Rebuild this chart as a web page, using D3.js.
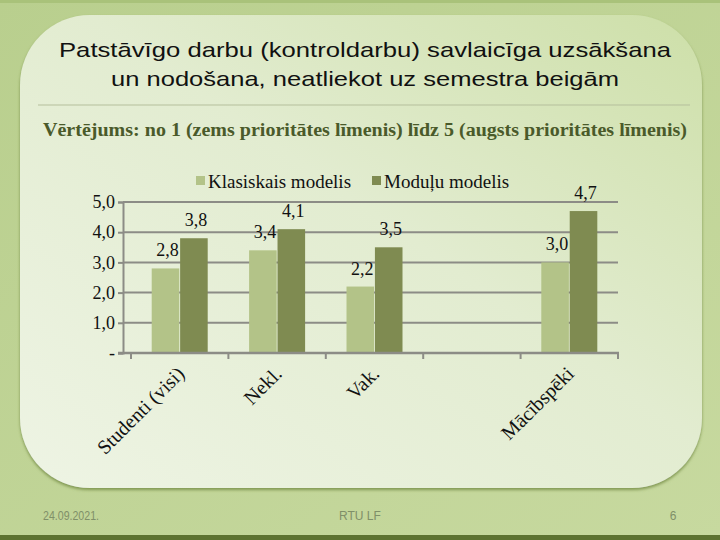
<!DOCTYPE html>
<html>
<head>
<meta charset="utf-8">
<script src="https://cdn.jsdelivr.net/npm/d3@7"></script>
<style>
  html, body { margin: 0; padding: 0; background: #c4d69b; }
  svg { display: block; }
</style>
</head>
<body>
<svg id="chart" width="720" height="540"></svg>
<script>
const categories = ["Studenti (visi)", "Nekl.", "Vak.", "", "Mācībspēki"];
const seriesNames = ["Klasiskais modelis", "Moduļu modelis"];
const klasiskais = [2.8, 3.4, 2.2, null, 3.0];
const modulu = [3.8, 4.1, 3.5, null, 4.7];
const yTicks = [0, 1, 2, 3, 4, 5];
const colors = ["#b3c388", "#7f8b51"];

const svg = d3.select("#chart");
const defs = svg.append("defs");

// slide background
const bg = defs.append("linearGradient").attr("id", "bg")
    .attr("x1", 0).attr("y1", 0).attr("x2", 1).attr("y2", 1);
bg.append("stop").attr("offset", 0).attr("stop-color", "#b9cf8e");
bg.append("stop").attr("offset", 1).attr("stop-color", "#c7d99f");

const panel = defs.append("linearGradient").attr("id", "panel")
    .attr("x1", 1).attr("y1", 0).attr("x2", 0).attr("y2", 1);
panel.append("stop").attr("offset", 0).attr("stop-color", "#cddfa8");
panel.append("stop").attr("offset", 0.45).attr("stop-color", "#e2ecd0");
panel.append("stop").attr("offset", 1).attr("stop-color", "#eef4e4");

const shadow = defs.append("filter").attr("id", "sh")
    .attr("x", -0.05).attr("y", -0.05).attr("width", 1.1).attr("height", 1.1);
shadow.append("feDropShadow").attr("dx", 0).attr("dy", 2).attr("stdDeviation", 1.5)
    .attr("flood-color", "#6f8740").attr("flood-opacity", 0.8);

svg.append("rect").attr("width", 720).attr("height", 540).attr("fill", "url(#bg)");
svg.append("rect").attr("y", 0).attr("width", 720).attr("height", 3).attr("fill", "#a9c27a");
svg.append("rect").attr("y", 535).attr("width", 720).attr("height", 5).attr("fill", "#5d7331");

svg.append("rect")
    .attr("x", 20).attr("y", 15).attr("width", 682).attr("height", 473)
    .attr("rx", 70).attr("ry", 70)
    .attr("fill", "url(#panel)")
    .attr("filter", "url(#sh)");

// title
const title = svg.append("text")
    .attr("text-anchor", "middle")
    .attr("font-family", "Liberation Sans, Arial, sans-serif")
    .attr("font-size", 21)
    .attr("fill", "#111");
title.append("tspan").attr("x", 365).attr("y", 57)
    .attr("textLength", 612).attr("lengthAdjust", "spacingAndGlyphs")
    .text("Patstāvīgo darbu (kontroldarbu) savlaicīga uzsākšana");
title.append("tspan").attr("x", 365).attr("y", 86)
    .attr("textLength", 508).attr("lengthAdjust", "spacingAndGlyphs")
    .text("un nodošana, neatliekot uz semestra beigām");

svg.append("line")
    .attr("x1", 38).attr("x2", 690).attr("y1", 105).attr("y2", 105)
    .attr("stroke", "#b5bf9c").attr("stroke-width", 1);

svg.append("text")
    .attr("x", 365).attr("y", 136)
    .attr("text-anchor", "middle")
    .attr("font-family", "Liberation Serif, Times New Roman, serif")
    .attr("font-weight", "bold")
    .attr("font-size", 18)
    .attr("textLength", 644)
    .attr("lengthAdjust", "spacingAndGlyphs")
    .attr("fill", "#4a5a2a")
    .text("Vērtējums: no 1 (zems prioritātes līmenis) līdz 5 (augsts prioritātes līmenis)");

// chart
const x = d3.scaleBand().domain(d3.range(categories.length)).range([131, 618]).padding(0);
const bw = x.bandwidth();
const xs = d3.scaleBand().domain([0, 1]).range([bw / 2 - 28, bw / 2 + 28]).paddingInner(0.03);
const y = d3.scaleLinear().domain([0, 5]).range([353, 202]);

const serif = "Liberation Serif, Times New Roman, serif";
const g = svg.append("g");

// gridlines
g.append("g").selectAll("line")
    .data(yTicks.filter(d => d > 0))
    .join("line")
    .attr("x1", 123).attr("x2", 618)
    .attr("y1", d => y(d)).attr("y2", d => y(d))
    .attr("stroke", "#8c8c86").attr("stroke-width", 2);

// bars
const data = categories.map((c, i) => ({ i, vals: [klasiskais[i], modulu[i]] }));
const grp = g.append("g").selectAll("g")
    .data(data)
    .join("g")
    .attr("transform", d => `translate(${x(d.i)},0)`);

grp.selectAll("rect")
    .data(d => d.vals.map((v, s) => ({ v, s })).filter(e => e.v != null))
    .join("rect")
    .attr("x", e => xs(e.s))
    .attr("width", xs.bandwidth())
    .attr("y", e => y(e.v))
    .attr("height", e => y(0) - y(e.v))
    .attr("fill", e => colors[e.s]);

grp.selectAll("text")
    .data(d => d.vals.map((v, s) => ({ v, s })).filter(e => e.v != null))
    .join("text")
    .attr("x", e => xs(e.s) + xs.bandwidth() / 2 + 2)
    .attr("y", e => y(e.v) - 12)
    .attr("text-anchor", "middle")
    .attr("font-family", serif)
    .attr("font-size", 18)
    .attr("fill", "#111")
    .text(e => d3.format(".1f")(e.v).replace(".", ","));

// axes
const yAxis = d3.axisLeft(y).tickValues(yTicks).tickSize(5).tickPadding(3)
    .tickFormat(d => d === 0 ? "-" : d3.format(".1f")(d).replace(".", ","));
const ya = g.append("g").attr("transform", "translate(123,0)").call(yAxis);
ya.select(".domain").attr("stroke", "#8c8c86").attr("stroke-width", 2);
ya.selectAll(".tick line").attr("stroke", "#8c8c86").attr("stroke-width", 2);
ya.selectAll(".tick text")
    .attr("font-family", serif).attr("font-size", 18).attr("fill", "#111");

const xa = g.append("g").attr("transform", "translate(0,353)");
xa.append("line").attr("x1", 118).attr("x2", 619).attr("y1", 0).attr("y2", 0)
    .attr("stroke", "#8c8c86").attr("stroke-width", 2.5);
xa.selectAll(".tk")
    .data(d3.range(categories.length + 1))
    .join("line")
    .attr("class", "tk")
    .attr("x1", d => d < categories.length ? x(d) : x(categories.length - 1) + bw)
    .attr("x2", d => d < categories.length ? x(d) : x(categories.length - 1) + bw)
    .attr("y1", 0).attr("y2", 6)
    .attr("stroke", "#8c8c86").attr("stroke-width", 2);

xa.selectAll(".lbl")
    .data(categories)
    .join("text")
    .attr("class", "lbl")
    .attr("text-anchor", "end")
    .attr("font-family", serif)
    .attr("font-size", 20)
    .attr("fill", "#111")
    .attr("transform", (d, i) => `translate(${x(i) + bw / 2 + 6},${22}) rotate(-45)`)
    .text(d => d);

// legend
const legend = svg.append("g").attr("font-family", serif).attr("font-size", 19).attr("fill", "#111");
const legX = [196, 372];
seriesNames.forEach((n, s) => {
  legend.append("rect").attr("x", legX[s]).attr("y", 176).attr("width", 9).attr("height", 9)
      .attr("fill", colors[s]);
  legend.append("text").attr("x", legX[s] + 12).attr("y", 188).text(n);
});

// footer
const foot = svg.append("g")
    .attr("font-family", "Liberation Sans Narrow, Liberation Sans, Arial, sans-serif")
    .attr("font-size", 12).attr("fill", "#7f8f68");
foot.append("text").attr("x", 43).attr("y", 520).attr("textLength", 56)
    .attr("lengthAdjust", "spacingAndGlyphs").text("24.09.2021.");
foot.append("text").attr("x", 360).attr("y", 520).attr("text-anchor", "middle").text("RTU LF");
foot.append("text").attr("x", 673).attr("y", 520).attr("text-anchor", "middle").text("6");
</script>
</body>
</html>
